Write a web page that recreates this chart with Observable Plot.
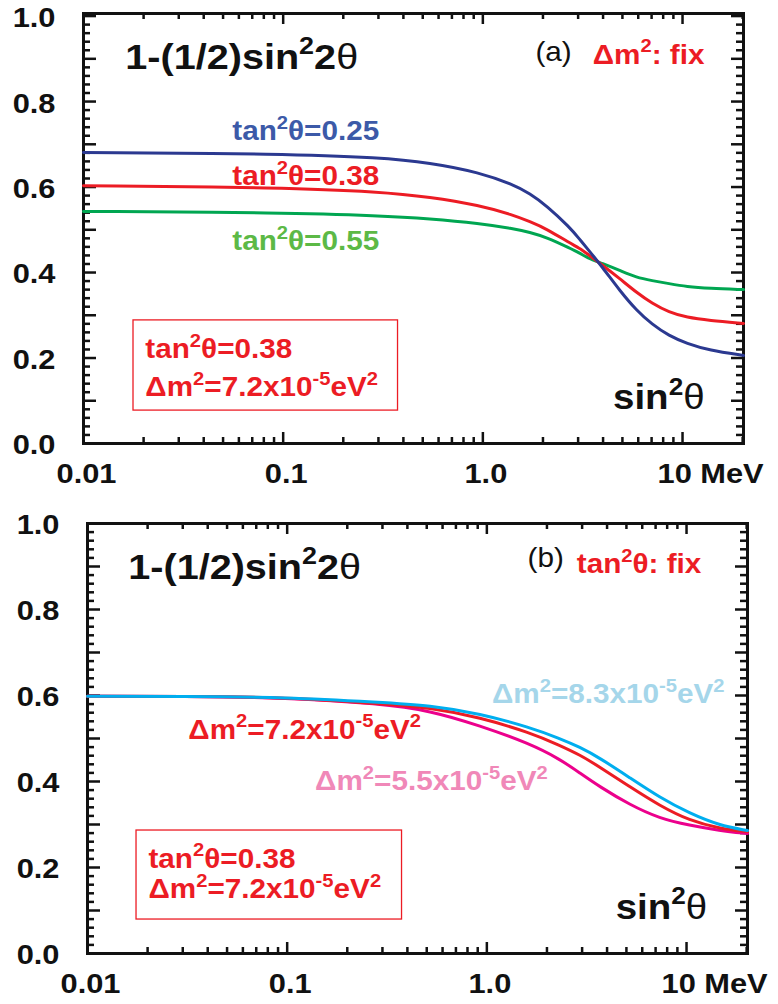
<!DOCTYPE html>
<html><head><meta charset="utf-8">
<script src="https://cdn.jsdelivr.net/npm/d3@7"></script>
<script src="https://cdn.jsdelivr.net/npm/@observablehq/plot@0.6"></script>
<style>
body{margin:0;background:#fff;}
#chart{width:778px;}
#chart svg{display:block;}
</style></head><body><div id="chart"></div>
<script>
// ---------- data ----------
// Panel (a): Δm² fixed, three mixing angles
const energyA = [0.01, 0.1, 0.305, 0.543, 0.966, 1.41, 1.72, 2.09, 2.72, 3.05, 3.31, 3.98, 4.84, 5.89, 7.03, 8.55, 10.5, 13.6, 20.2];
const blueA   = [0.681, 0.678, 0.669, 0.657, 0.634, 0.606, 0.585, 0.556, 0.506, 0.478, 0.458, 0.412, 0.358, 0.311, 0.279, 0.252, 0.234, 0.218, 0.206];
const redA    = [0.603, 0.599, 0.589, 0.577, 0.557, 0.535, 0.519, 0.502, 0.469, 0.457, 0.445, 0.417, 0.386, 0.353, 0.328, 0.307, 0.295, 0.288, 0.281];
const greenA  = [0.543, 0.540, 0.533, 0.526, 0.515, 0.503, 0.494, 0.482, 0.457, 0.446, 0.435, 0.421, 0.405, 0.388, 0.381, 0.374, 0.367, 0.363, 0.360];
const seriesNamesA = ["tan²θ=0.25", "tan²θ=0.38", "tan²θ=0.55"];

// Panel (b): tan²θ fixed, three Δm²
const energyB  = [0.01, 0.03, 0.1, 0.292, 0.519, 0.923, 1.64, 2.32, 2.92, 3.67, 5.19, 7.33, 10.35, 14.6, 20.2];
const cyanB    = [0.598, 0.598, 0.596, 0.584, 0.577, 0.558, 0.526, 0.500, 0.480, 0.455, 0.409, 0.363, 0.326, 0.298, 0.286];
const redB     = [0.598, 0.598, 0.596, 0.581, 0.572, 0.549, 0.514, 0.484, 0.462, 0.434, 0.388, 0.344, 0.309, 0.291, 0.283];
const magentaB = [0.598, 0.598, 0.595, 0.581, 0.565, 0.530, 0.488, 0.452, 0.420, 0.388, 0.346, 0.314, 0.298, 0.286, 0.279];
const seriesNamesB = ["Δm²=8.3x10⁻⁵eV²", "Δm²=7.2x10⁻⁵eV²", "Δm²=5.5x10⁻⁵eV²"];

// axis ticks
const xTicks = [0.01, 0.1, 1, 10];
const xTickLabels = ["0.01", "0.1", "1.0", "10 MeV"];
const yTicks = [0, 0.2, 0.4, 0.6, 0.8, 1.0];
const yTickLabels = ["0.0", "0.2", "0.4", "0.6", "0.8", "1.0"];

// ---------- helpers ----------
const rows = (E, P, name) => E.map((e, i) => ({E: e, P: P[i], name}));
const xMinor = [-2, -1, 0, 1].flatMap(k => [2,3,4,5,6,7,8,9].map(m => +(m * 10 ** k).toPrecision(3))).filter(v => v <= 20);
const yMajor = d3.range(0, 11).map(i => +(i / 10).toFixed(2));
const yMinor = d3.range(0, 51).map(i => +(i * 0.02).toFixed(2)).filter(v => Math.round(v * 100) % 10 !== 0);

const FONT = "'Liberation Sans', Arial, Helvetica, sans-serif";
const INK = "#111";
const W = 660, H = 430; // inner plot size of both panels

function frameMarks(extra) {
  const tk = {stroke: INK, strokeWidth: 2.5};
  return [
    // inward ticks on all four sides
    Plot.tickY(yMinor, {...tk, y: d => d, insetRight: W - 7}),
    Plot.tickY(yMajor, {...tk, y: d => d, insetRight: W - 13}),
    Plot.tickY(yMinor, {...tk, y: d => d, insetLeft: W - 7}),
    Plot.tickY(yMajor, {...tk, y: d => d, insetLeft: W - 12}),
    Plot.tickX(xMinor, {...tk, x: d => d, insetTop: H - 6}),
    Plot.tickX(xTicks, {...tk, x: d => d, insetTop: H - 11}),
    Plot.tickX(xMinor, {...tk, x: d => d, insetBottom: H - 6}),
    Plot.tickX(xTicks, {...tk, x: d => d, insetBottom: H - 11}),
    // tick labels
    Plot.axisY({anchor: "left", ticks: yTicks, tickSize: 0, tickPadding: 28, dy: 2,
      tickFormat: d => yTickLabels[yTicks.indexOf(d)], fontSize: 28, fontWeight: "bold", fill: INK}),
    Plot.axisX({anchor: "bottom", ticks: xTicks.slice(0, 3), tickSize: 0, tickPadding: 20, dx: 3,
      tickFormat: d => xTickLabels[xTicks.indexOf(d)], fontSize: 28, fontWeight: "bold", fill: INK}),
    Plot.axisX({anchor: "bottom", ticks: xTicks.slice(3), tickSize: 0, tickPadding: 20, dx: -25, textAnchor: "start",
      tickFormat: d => xTickLabels[xTicks.indexOf(d)], fontSize: 28, fontWeight: "bold", fill: INK}),
    Plot.frame({stroke: INK, strokeWidth: 3}),
    ...extra
  ];
}

function label(x, y, t, opts = {}) {
  return Plot.text([{x, y, t}], {x: "x", y: "y", text: "t", textAnchor: "start", lineAnchor: "bottom",
    fontWeight: "bold", fontSize: 27, ...opts});
}
function box(x1, x2, y1, y2, color) {
  return Plot.rect([{x1, x2, y1, y2}], {x1: "x1", x2: "x2", y1: "y1", y2: "y2", fill: "none", stroke: color, strokeWidth: 1.3});
}

// ^{..} -> superscript, [..] -> regular weight; then widen glyphs slightly like the original
function richText(svg, stretch) {
  const NS = "http://www.w3.org/2000/svg";
  svg.querySelectorAll("text").forEach(t => {
    const s = t.textContent;
    if (/\^\{|\[/.test(s)) {
      while (t.firstChild) t.removeChild(t.firstChild);
      const re = /\^\{([^}]*)\}|\[([^\]]*)\]|([^\^\[]+)/g;
      let m, up = false;
      while ((m = re.exec(s))) {
        const ts = document.createElementNS(NS, "tspan");
        if (m[1] != null) {
          ts.textContent = m[1];
          ts.setAttribute("font-size", "68%");
          if (!up) ts.setAttribute("dy", "-0.6em");
          up = true;
        } else {
          ts.textContent = m[2] != null ? m[2] : m[3];
          if (m[2] != null) ts.setAttribute("font-weight", "normal");
          if (up) ts.setAttribute("dy", "0.408em");
          up = false;
        }
        t.appendChild(ts);
      }
    }
    const tr = t.getAttribute("transform");
    if (tr) t.setAttribute("transform", tr + ` scale(${stretch},1)`);
    else {
      const x = +(t.getAttribute("x") || 0);
      t.setAttribute("transform", `translate(${x},0) scale(${stretch},1) translate(${-x},0)`);
    }
  });
  return svg;
}

const RED = "#ec1c24";
const common = {width: 778, style: {fontFamily: FONT, background: "#fff"}};
const lineOpts = {x: "E", y: "P", strokeWidth: 3, curve: "basis"};

// ---------- panel (a) ----------
const svgA = Plot.plot({
  ...common,
  height: 500, marginLeft: 83, marginRight: 35, marginTop: 13, marginBottom: 57,
  x: {type: "log", domain: [0.01, 20.2], label: null},
  y: {domain: [0, 1.006], label: null},
  marks: frameMarks([
    Plot.line(rows(energyA, greenA, seriesNamesA[2]), {...lineOpts, stroke: "#00a651"}),
    Plot.line(rows(energyA, redA, seriesNamesA[1]), {...lineOpts, stroke: RED}),
    Plot.line(rows(energyA, blueA, seriesNamesA[0]), {...lineOpts, stroke: "#2b3990"}),
    label(0.0162, 0.877, "1-(1/2)sin^{2}2[θ]", {fontSize: 36, fill: INK}),
    label(2.26, 0.896, "(a)", {textAnchor: "middle", fontWeight: "normal", fontSize: 27, fill: INK}),
    label(3.55, 0.889, "Δm^{2}: fix", {fill: RED}),
    label(0.0556, 0.709, "tan^{2}θ=0.25", {fill: "#3c5aa8"}),
    label(0.0556, 0.604, "tan^{2}θ=0.38", {fill: RED}),
    label(0.0556, 0.452, "tan^{2}θ=0.55", {fill: "#5cb946"}),
    box(0.0178, 0.376, 0.077, 0.288, RED),
    label(0.0204, 0.199, "tan^{2}θ=0.38", {fill: RED}),
    label(0.0204, 0.110, "Δm^{2}=7.2x10^{-5}eV^{2}", {fill: RED}),
    label(12.9, 0.080, "sin^{2}[θ]", {textAnchor: "end", fontSize: 35, fill: INK})
  ])
});

// ---------- panel (b) ----------
const svgB = Plot.plot({
  ...common,
  height: 504, marginLeft: 87, marginRight: 31, marginTop: 23, marginBottom: 51,
  x: {type: "log", domain: [0.01, 20.2], label: null},
  y: {domain: [0, 1], label: null},
  marks: frameMarks([
    Plot.line(rows(energyB, magentaB, seriesNamesB[2]), {...lineOpts, stroke: "#ec008c"}),
    Plot.line(rows(energyB, redB, seriesNamesB[1]), {...lineOpts, stroke: RED}),
    Plot.line(rows(energyB, cyanB, seriesNamesB[0]), {...lineOpts, stroke: "#00aeef"}),
    label(0.016, 0.872, "1-(1/2)sin^{2}2[θ]", {fontSize: 36, fill: INK}),
    label(1.97, 0.898, "(b)", {textAnchor: "middle", fontWeight: "normal", fontSize: 27, fill: INK}),
    label(2.82, 0.886, "tan^{2}θ: fix", {fill: RED}),
    label(1.06, 0.583, "Δm^{2}=8.3x10^{-5}eV^{2}", {fill: "#a5d6ea"}),
    label(0.032, 0.50, "Δm^{2}=7.2x10^{-5}eV^{2}", {fill: RED}),
    label(0.138, 0.381, "Δm^{2}=5.5x10^{-5}eV^{2}", {fill: "#f088b8"}),
    box(0.0176, 0.376, 0.079, 0.286, RED),
    label(0.0202, 0.200, "tan^{2}θ=0.38", {fill: RED}),
    label(0.0202, 0.128, "Δm^{2}=7.2x10^{-5}eV^{2}", {fill: RED}),
    label(12.7, 0.081, "sin^{2}[θ]", {textAnchor: "end", fontSize: 35, fill: INK})
  ])
});

const root = document.getElementById("chart");
root.appendChild(richText(svgA, 1.1));
root.appendChild(richText(svgB, 1.1));
</script>
</body></html>
